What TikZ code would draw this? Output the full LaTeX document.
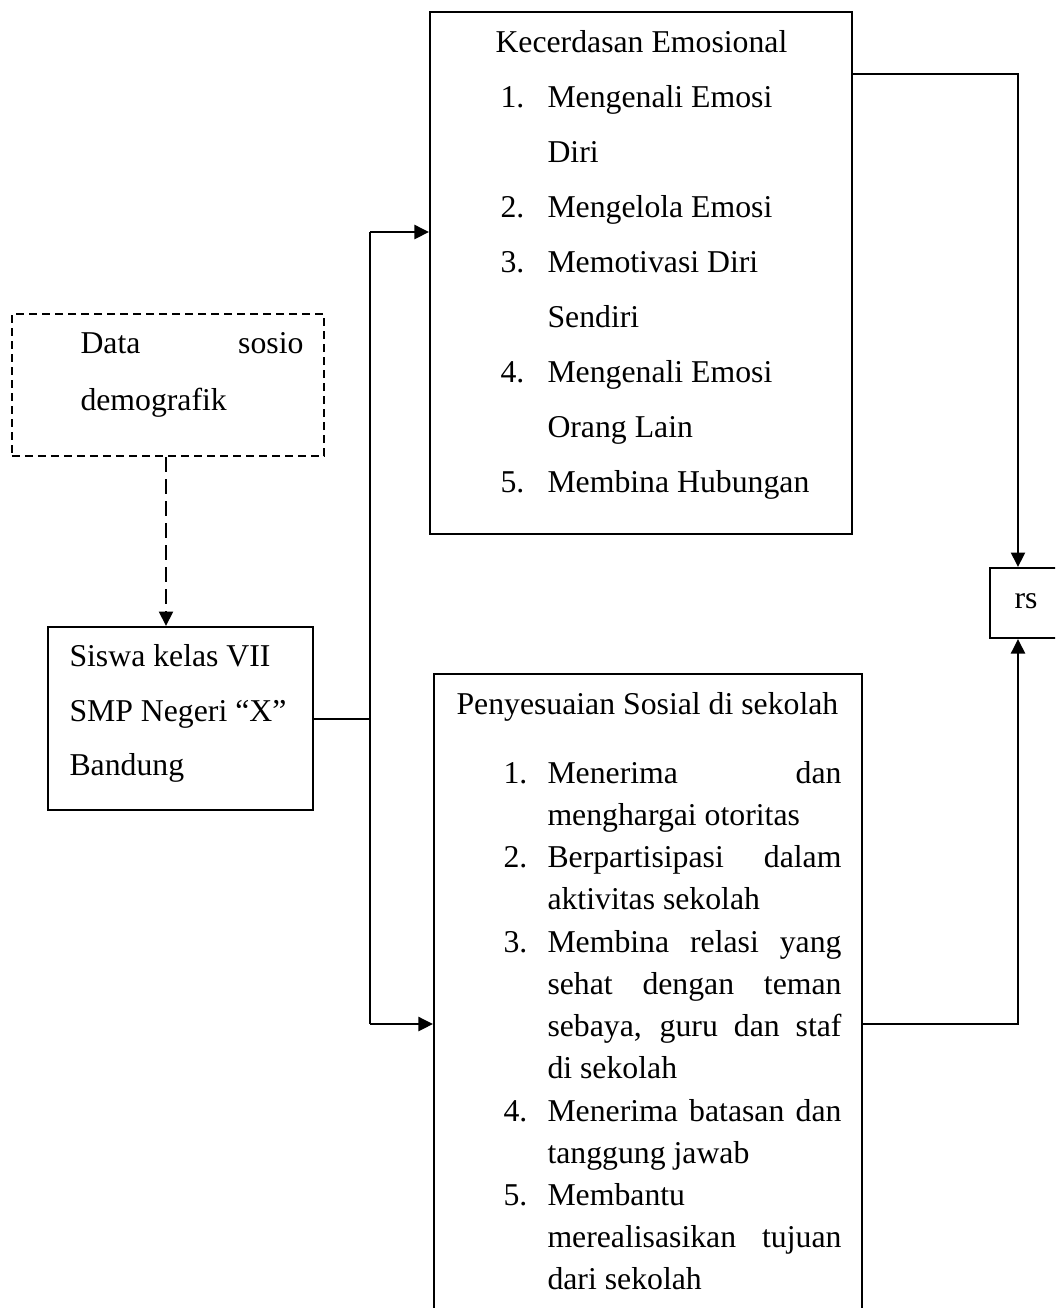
\documentclass[tikz,border=0pt]{standalone}
\usepackage{fontspec}
\setmainfont{Liberation Serif}
\usetikzlibrary{arrows.meta}
\tikzset{
  box/.style={draw, line width=0.8pt, rectangle, inner sep=0pt},
  txt/.style={anchor=base west, inner sep=0pt, font=\fontsize{12.7}{15}\selectfont},
  conn/.style={line width=0.8pt},
  arr/.style={line width=0.8pt, -{Triangle[length=5.8pt,width=5.6pt]}},
}
\newcommand{\jline}[2]{\makebox[#1][s]{#2}}
\begin{document}
\begin{tikzpicture}[x=0.4pt,y=-0.4pt]
\useasboundingbox (0,0) rectangle (1055,1308);
\clip (0,0) rectangle (1055,1308);
\fill[white] (0,0) rectangle (1055,1308);
% boxes
\node[box, minimum width=168.8pt, minimum height=208.8pt] (ke) at (641,273) {};
\node[box, dash pattern=on 3.2pt off 2pt, minimum width=124.8pt, minimum height=56.8pt] (data) at (168,385) {};
\node[box, minimum width=106pt, minimum height=73.2pt] (siswa) at (180.5,718.5) {};
\node[box, minimum width=171.2pt, minimum height=266.4pt] (ps) at (648,1007) {};
\node[box, minimum width=28.8pt, minimum height=28pt] (rs) at (1026,603) {};
% texts: Kecerdasan Emosional
\node[txt] (k0) at (495,52) {Kecerdasan Emosional};
\node[txt] (k1n) at (500,107) {1.};
\node[txt] (k1) at (547,107) {Mengenali Emosi};
\node[txt] (k1b) at (547,162) {Diri};
\node[txt] (k2n) at (500,217) {2.};
\node[txt] (k2) at (547,217) {Mengelola Emosi};
\node[txt] (k3n) at (500,272) {3.};
\node[txt] (k3) at (547,272) {Memotivasi Diri};
\node[txt] (k3b) at (547,327) {Sendiri};
\node[txt] (k4n) at (500,382) {4.};
\node[txt] (k4) at (547,382) {Mengenali Emosi};
\node[txt] (k4b) at (547,437) {Orang Lain};
\node[txt] (k5n) at (500,492) {5.};
\node[txt] (k5) at (547,492) {Membina Hubungan};
% data sosio demografik
\node[txt] (d1) at (80,353) {\jline{89.2pt}{Data sosio}};
\node[txt] (d2) at (80,410) {demografik};
% siswa
\node[txt] (s1) at (69,666) {Siswa kelas VII};
\node[txt] (s2) at (69,721) {SMP Negeri “X”};
\node[txt] (s3) at (69,775) {Bandung};
% Penyesuaian
\node[txt] (p0) at (456,714) {Penyesuaian Sosial di sekolah};
\node[txt] (p1n) at (503,783) {1.};
\node[txt] (p1) at (547,783) {\jline{117.6pt}{Menerima dan}};
\node[txt] (p1b) at (547,825) {menghargai otoritas};
\node[txt] (p2n) at (503,867) {2.};
\node[txt] (p2) at (547,867) {\jline{117.6pt}{Berpartisipasi dalam}};
\node[txt] (p2b) at (547,909) {aktivitas sekolah};
\node[txt] (p3n) at (503,952) {3.};
\node[txt] (p3) at (547,952) {\jline{117.6pt}{Membina relasi yang}};
\node[txt] (p3b) at (547,994) {\jline{117.6pt}{sehat dengan teman}};
\node[txt] (p3c) at (547,1036) {\jline{117.6pt}{sebaya, guru dan staf}};
\node[txt] (p3d) at (547,1078) {di sekolah};
\node[txt] (p4n) at (503,1121) {4.};
\node[txt] (p4) at (547,1121) {\jline{117.6pt}{Menerima batasan dan}};
\node[txt] (p4b) at (547,1163) {tanggung jawab};
\node[txt] (p5n) at (503,1205) {5.};
\node[txt] (p5) at (547,1205) {Membantu};
\node[txt] (p5b) at (547,1247) {\jline{117.6pt}{merealisasikan tujuan}};
\node[txt] (p5c) at (547,1289) {dari sekolah};
% rs
\node[anchor=base, inner sep=0pt, font=\fontsize{12.7}{15}\selectfont] (rst) at (1026,608) {rs};
% helper coordinates
\coordinate (dx) at (166,0);
\coordinate (jx) at (370,0);
\coordinate (rx) at (1018,0);
\coordinate (ya) at (0,232);
\coordinate (yb) at (0,1024);
\coordinate (yc) at (0,74);
% connectors
\draw[arr, dash pattern=on 6pt off 2.8pt] (data.south -| dx) -- (siswa.north -| dx);
\draw[conn] (siswa.east) -- (siswa.east -| jx);
\draw[arr] (jx |- ya) -- (ke.west |- ya);
\draw[conn] (jx |- ya) -- (jx |- yb);
\draw[arr] (jx |- yb) -- (ps.west |- yb);
\draw[arr] (ke.east |- yc) -| (rs.north -| rx);
\draw[arr] (ps.east |- yb) -| (rs.south -| rx);
\end{tikzpicture}
\end{document}
